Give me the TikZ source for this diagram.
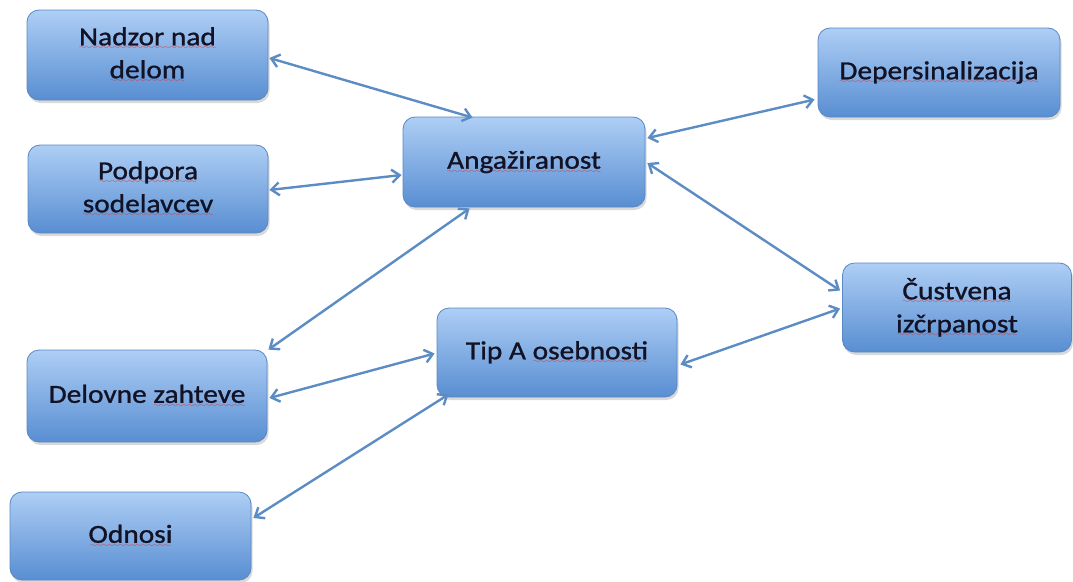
\documentclass[tikz,border=0pt]{standalone}
\usepackage{fontspec}
\setmainfont{Carlito}[FakeStretch=1.13,FakeBold=1.0]
\usetikzlibrary{arrows.meta,shadows,calc}
\definecolor{sqred}{RGB}{220,50,50}
\definecolor{boxtop}{RGB}{174,206,245}
\definecolor{boxbot}{RGB}{88,142,210}
\definecolor{boxline}{RGB}{90,136,196}
\definecolor{txt}{RGB}{18,18,36}
\definecolor{arr}{RGB}{92,140,196}
\font\sqfont=lasy8
\newcommand\sq[1]{\setbox0\hbox{#1}\leavevmode\rlap{\textcolor{sqred}{\lower4.5pt\hbox to \wd0{\cleaders\hbox{\sqfont\char58}\hfill}}}\box0}
\begin{document}
\begin{tikzpicture}[x=1pt,y=-1pt,
  bx/.style={rounded corners=12pt, draw=boxline, line width=0.8pt,
    top color=boxtop, bottom color=boxbot,
    drop shadow={opacity=0.3, shadow xshift=1.5pt, shadow yshift=-3pt},
    text=txt, font=\fontsize{26}{33}\selectfont, align=center, inner sep=0pt},
  con/.style={draw=arr, line width=2.4pt, {Straight Barb[length=8pt,width=13pt]}-{Straight Barb[length=8pt,width=13pt]}}]
\useasboundingbox (0,0) rectangle (1073,581);
\node[bx, minimum width=241pt, minimum height=90pt] (nadzor) at (147.5,55) {\sq{Nadzor nad}\\\sq{delom}};
\node[bx, minimum width=240pt, minimum height=88pt] (podpora) at (148,189) {\sq{Podpora}\\\sq{sodelavcev}};
\node[bx, minimum width=242pt, minimum height=90pt] (ang) at (524,162) {\sq{Angažiranost}};
\node[bx, minimum width=242pt, minimum height=89pt] (dep) at (939,72.5) {\sq{Depersinalizacija}};
\node[bx, minimum width=229pt, minimum height=89pt] (cust) at (957,307.5) {\sq{Čustvena}\\\sq{izčrpanost}};
\node[bx, minimum width=240pt, minimum height=89pt] (tip) at (557,352.5) {Tip A \sq{osebnosti}};
\node[bx, minimum width=240pt, minimum height=92pt] (delovne) at (147,396) {Delovne \sq{zahteve}};
\node[bx, minimum width=241pt, minimum height=88pt] (odnosi) at (130.5,536) {\sq{Odnosi}};
\draw[con] ($(nadzor.east)+(1,3)$) -- ($(ang.north west)+(70,1)$);
\draw[con] ($(podpora.east)+(1,1)$) -- ($(ang.west)+(-1,13)$);
\draw[con] ($(ang.south west)+(67,1)$) -- ($(delovne.north east)+(1,0)$);
\draw[con] ($(delovne.east)+(2,2)$) -- ($(tip.west)+(-2,1)$);
\draw[con] ($(odnosi.east)+(2,-18)$) -- ($(tip.south west)+(12,-3)$);
\draw[con] ($(ang.east)+(2,-24)$) -- ($(dep.west)+(-3,27)$);
\draw[con] ($(ang.east)+(2,1)$) -- ($(cust.west)+(-2,-17)$);
\draw[con] ($(tip.east)+(3,12)$) -- ($(cust.west)+(-2,1)$);
\end{tikzpicture}
\end{document}
